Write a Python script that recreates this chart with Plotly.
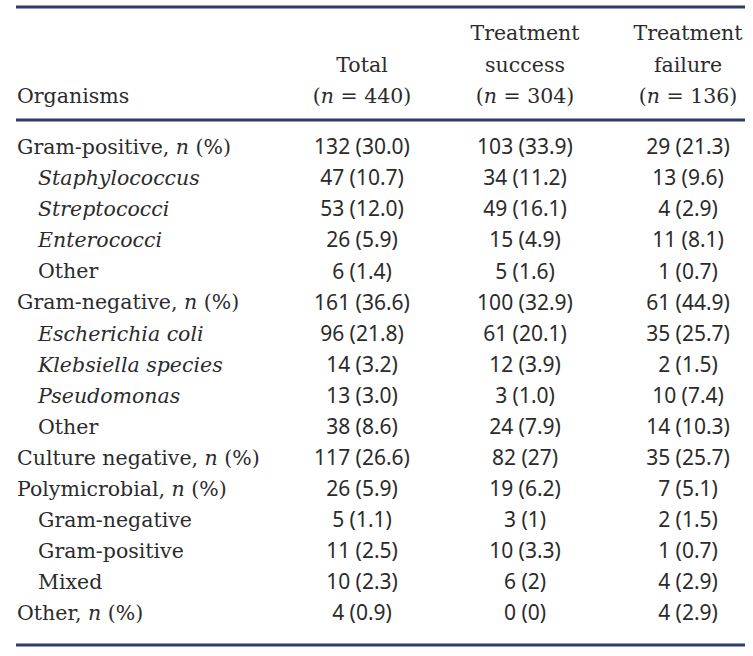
import plotly.graph_objects as go

# ---- data ----
header_organisms = ["", "", "Organisms"]
header_total = ["", "Total", "(<i>n</i> = 440)"]
header_success = ["Treatment", "success", "(<i>n</i> = 304)"]
header_failure = ["Treatment", "failure", "(<i>n</i> = 136)"]

organisms = [
    "Gram-positive, <i>n</i> (%)", "<i>Staphylococcus</i>", "<i>Streptococci</i>",
    "<i>Enterococci</i>", "Other", "Gram-negative, <i>n</i> (%)",
    "<i>Escherichia coli</i>", "<i>Klebsiella species</i>", "<i>Pseudomonas</i>",
    "Other", "Culture negative, <i>n</i> (%)", "Polymicrobial, <i>n</i> (%)",
    "Gram-negative", "Gram-positive", "Mixed", "Other, <i>n</i> (%)",
]
indent = [0, 1, 1, 1, 1, 0, 1, 1, 1, 1, 0, 0, 1, 1, 1, 0]
total = ["132 (30.0)", "47 (10.7)", "53 (12.0)", "26 (5.9)", "6 (1.4)",
         "161 (36.6)", "96 (21.8)", "14 (3.2)", "13 (3.0)", "38 (8.6)",
         "117 (26.6)", "26 (5.9)", "5 (1.1)", "11 (2.5)", "10 (2.3)", "4 (0.9)"]
success = ["103 (33.9)", "34 (11.2)", "49 (16.1)", "15 (4.9)", "5 (1.6)",
           "100 (32.9)", "61 (20.1)", "12 (3.9)", "3 (1.0)", "24 (7.9)",
           "82 (27)", "19 (6.2)", "3 (1)", "10 (3.3)", "6 (2)", "0 (0)"]
failure = ["29 (21.3)", "13 (9.6)", "4 (2.9)", "11 (8.1)", "1 (0.7)",
           "61 (44.9)", "35 (25.7)", "2 (1.5)", "10 (7.4)", "14 (10.3)",
           "35 (25.7)", "7 (5.1)", "2 (1.5)", "1 (0.7)", "4 (2.9)", "4 (2.9)"]

# ---- layout geometry (pixel-like coordinates) ----
W, H = 753, 656
TXT = "#2b2b2b"
RULE = "#2e3c69"
SERIF = "DejaVu Serif"
SANS = "Noto Sans"
x_left, x_indent = 17, 38
x_cols = [362, 525, 688]
hdr_y0, hdr_dy = 35, 31.5
row_y0, row_dy = 149, 31.07

hdr_y = [hdr_y0 + i * hdr_dy for i in range(3)]
row_y = [row_y0 + i * row_dy for i in range(len(organisms))]

fig = go.Figure()

def text_trace(xs, ys, texts, pos, family, size=20.5):
    fig.add_trace(go.Scatter(
        x=xs, y=ys, text=texts, mode="text", textposition=pos,
        textfont=dict(family=family, size=size, color=TXT),
        hoverinfo="skip", showlegend=False, cliponaxis=False))

# header
text_trace([x_left] * 3, hdr_y, header_organisms, "middle right", SERIF)
for xc, col in zip(x_cols, [header_total, header_success, header_failure]):
    text_trace([xc] * 3, hdr_y, col, "middle center", SERIF)

# body
text_trace([x_indent if d else x_left for d in indent], row_y, organisms,
           "middle right", SERIF)
for xc, col in zip(x_cols, [total, success, failure]):
    text_trace([xc] * len(col), row_y, col, "middle center", SANS, 21)

# rules
for yl in [7, 120, 645]:
    fig.add_shape(type="line", x0=16, x1=745, y0=yl, y1=yl,
                  line=dict(color=RULE, width=3))

fig.update_layout(
    width=W, height=H, margin=dict(l=0, r=0, t=0, b=0),
    paper_bgcolor="white", plot_bgcolor="white",
    xaxis=dict(range=[0, W], visible=False, fixedrange=True),
    yaxis=dict(range=[H, 0], visible=False, fixedrange=True),
)
fig.write_html("out.html",
               config={"displayModeBar": False, "staticPlot": True},
               post_script="document.body.style.margin='0px';"
                           "document.body.style.overflow='hidden';")
